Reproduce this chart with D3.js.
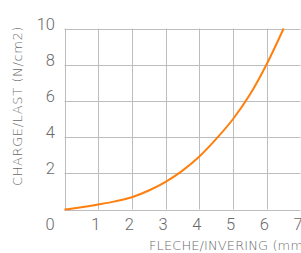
<!DOCTYPE html>
<html><head><meta charset="utf-8">
<script src="https://cdn.jsdelivr.net/npm/d3@7"></script>
<style>html,body{margin:0;padding:0;background:#fff;overflow:hidden}</style>
</head><body>
<svg id="c" width="301" height="253"></svg>
<script>
const xValues = [0, 0.5, 1, 1.5, 2, 2.5, 3, 3.5, 4, 4.5, 5, 5.5, 6, 6.5];
const yValues = [0, 0.13, 0.28, 0.45, 0.68, 1.05, 1.53, 2.15, 2.93, 3.9, 5.0, 6.35, 8.04, 10.0];
const xTicks = [1, 2, 3, 4, 5, 6, 7];
const yTicks = [2, 4, 6, 8, 10];
const originLabel = "0";
const xTitle = "FLECHE/INVERING (mm)";
const yTitle = "CHARGE/LAST (N/cm2)";

const svg = d3.select("#c");
const x = d3.scaleLinear().domain([0, 7]).range([64.5, 300.5]);
const y = d3.scaleLinear().domain([0, 10]).range([209.5, 28.5]);
const gridColor = "#bdbdbd";
const textColor = "#6a6a6a";
const tickFont = "Roboto, sans-serif";
const titleFont = "'DejaVu Sans', sans-serif";

// vertical grid
svg.append("g").selectAll("line").data([0].concat(xTicks)).join("line")
  .attr("x1", d => Math.round(x(d)) + 0.5).attr("x2", d => Math.round(x(d)) + 0.5)
  .attr("y1", y(10)).attr("y2", y(0))
  .attr("stroke", gridColor).attr("stroke-width", 1);
// horizontal grid
svg.append("g").selectAll("line").data([0].concat(yTicks)).join("line")
  .attr("y1", d => Math.round(y(d)) + 0.5).attr("y2", d => Math.round(y(d)) + 0.5)
  .attr("x1", x(0)).attr("x2", x(7))
  .attr("stroke", gridColor).attr("stroke-width", 1);

// x tick labels
svg.append("g").selectAll("text").data(xTicks).join("text")
  .attr("x", d => x(d) - 2.5).attr("y", 230)
  .attr("text-anchor", "middle")
  .attr("font-family", tickFont).attr("font-weight", 300).attr("font-size", 16.5)
  .attr("fill", textColor).text(d => d);
// y tick labels
svg.append("g").selectAll("text").data(yTicks).join("text")
  .attr("x", 55).attr("y", d => y(d) + 1)
  .attr("text-anchor", "end")
  .attr("font-family", tickFont).attr("font-weight", 300).attr("font-size", 16.5)
  .attr("fill", textColor).text(d => d);
// origin label
svg.append("text").attr("x", 50).attr("y", 230).attr("text-anchor", "middle")
  .attr("font-family", tickFont).attr("font-weight", 300).attr("font-size", 16.5)
  .attr("fill", textColor).text(originLabel);

// axis titles
svg.append("text").attr("x", 149).attr("y", 250)
  .attr("font-family", titleFont).attr("font-weight", 200).attr("font-size", 13)
  .attr("letter-spacing", 0.1)
  .attr("fill", textColor).text(xTitle);
svg.append("text").attr("transform", "translate(22,186) rotate(-90)")
  .attr("font-family", titleFont).attr("font-weight", 200).attr("font-size", 13)
  .attr("letter-spacing", 0.6)
  .attr("fill", textColor).text(yTitle);

// curve
const pts = xValues.map((v, i) => [v, yValues[i]]);
svg.append("path").datum(pts)
  .attr("d", d3.line().x(d => x(d[0])).y(d => y(d[1])).curve(d3.curveMonotoneX))
  .attr("fill", "none").attr("stroke", "#ff7f0e").attr("stroke-width", 2);
</script>
</body></html>
